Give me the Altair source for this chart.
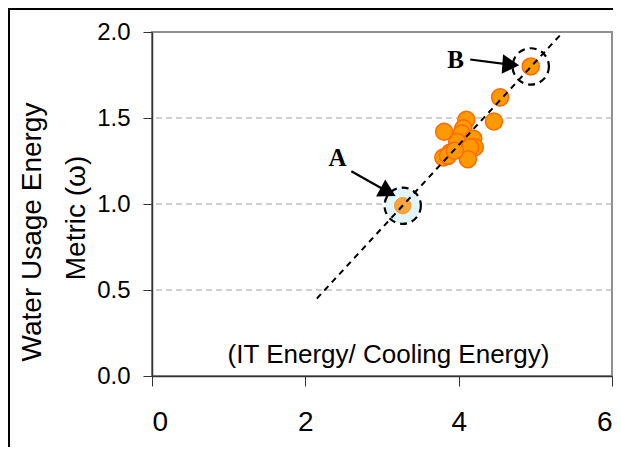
import altair as alt
import pandas as pd

# data points (IT energy / cooling energy, water usage energy metric)
xs = [4.94, 4.54, 4.46, 4.10, 3.81, 4.06, 4.04, 4.19, 4.21, 3.98, 4.15, 3.89, 3.80, 3.86, 4.12, 3.95]
ys = [1.80, 1.62, 1.48, 1.49, 1.42, 1.44, 1.41, 1.38, 1.33, 1.36, 1.33, 1.30, 1.27, 1.28, 1.26, 1.31]

# highlighted points A and B
hl_names = ["A", "B"]
hl_x = [3.27, 4.94]
hl_y = [0.99, 1.80]

# trend line endpoints
line_x = [2.15, 5.32]
line_y = [0.45, 1.98]

# annotation labels and arrows
lab_x = [2.42, 3.96]
lab_y = [1.27, 1.84]
arr_x0 = [2.60, 4.15]
arr_y0 = [1.19, 1.84]
arr_x1 = [3.08, 4.68]
arr_y1 = [1.07, 1.81]
arr_angle = [28, 4]

grid_vals = [0.5, 1.0, 1.5]
x_ticks = [0, 2, 4, 6]
y_ticks = [0.0, 0.5, 1.0, 1.5, 2.0]

pts = pd.DataFrame({"x": xs, "y": ys})
hl = pd.DataFrame({"name": hl_names, "x": hl_x, "y": hl_y})
ln = pd.DataFrame({"x": line_x, "y": line_y})
lab = pd.DataFrame({"name": hl_names, "x": lab_x, "y": lab_y})
arr = pd.DataFrame({"x": arr_x0, "y": arr_y0, "x2": arr_x1, "y2": arr_y1, "angle": arr_angle})
grid = pd.DataFrame({"y": grid_vals})

FONT = "Liberation Sans"

xs_ = alt.Scale(domain=[0, 6], nice=False)
ys_ = alt.Scale(domain=[0, 2], nice=False)

X = alt.X("x:Q", scale=xs_, axis=alt.Axis(
    values=x_ticks, format="d", title="(IT Energy/ Cooling Energy)",
    titleFontSize=26, titleFont=FONT, titleFontWeight="normal", titleColor="black",
    titleY=-22, titleBaseline="middle", titleX=236,
    labelFontSize=28, labelFont=FONT, labelColor="black", labelPadding=22,
    tickSize=10, tickColor="#333333", domainColor="#333333", domainWidth=1.5, grid=False))
Y = alt.Y("y:Q", scale=ys_, axis=alt.Axis(
    values=y_ticks, format=".1f", title=None,
    labelFontSize=24, labelFont=FONT, labelColor="black", labelPadding=13,
    tickSize=9, tickColor="#333333", domainColor="#333333", domainWidth=1.5, grid=False))

gridl = alt.Chart(grid).mark_rule(color="#A0A0A0", strokeDash=[6, 4], strokeWidth=1).encode(
    y=alt.Y("y:Q", scale=ys_))

circA = alt.Chart(hl[hl.name == "A"]).mark_point(
    shape="circle", size=1250, filled=True, fill="#E2F5F8", opacity=1, strokeWidth=0).encode(
    x=alt.X("x:Q", scale=xs_), y=alt.Y("y:Q", scale=ys_))

points = alt.Chart(pts).mark_point(
    shape="circle", size=290, filled=True, fill="#FF9900", stroke="#FF6A00",
    strokeWidth=1.5, opacity=1).encode(x=X, y=Y)

pointA = alt.Chart(hl[hl.name == "A"]).mark_point(
    shape="circle", size=270, filled=True, fill="#F7A540", stroke="#F59A30",
    strokeWidth=1, opacity=1).encode(x=alt.X("x:Q", scale=xs_), y=alt.Y("y:Q", scale=ys_))

trend = alt.Chart(ln).mark_line(color="black", strokeDash=[6, 5], strokeWidth=2).encode(
    x=alt.X("x:Q", scale=xs_), y=alt.Y("y:Q", scale=ys_))

rings = alt.Chart(hl).mark_point(
    shape="circle", size=1320, filled=False, stroke="black", strokeDash=[7, 5],
    strokeWidth=2.2, opacity=1).encode(x=alt.X("x:Q", scale=xs_), y=alt.Y("y:Q", scale=ys_))

arrows = alt.Chart(arr).mark_rule(color="black", strokeWidth=2.2).encode(
    x=alt.X("x:Q", scale=xs_), y=alt.Y("y:Q", scale=ys_), x2="x2:Q", y2="y2:Q")

heads = alt.Chart(arr).mark_point(
    shape="triangle-right", size=380, filled=True, fill="black", opacity=1).encode(
    x=alt.X("x2:Q", scale=xs_), y=alt.Y("y2:Q", scale=ys_), angle=alt.Angle("angle:Q", scale=None))

labels = alt.Chart(lab).mark_text(
    font="Liberation Serif", fontWeight="bold", fontSize=25, color="black").encode(
    x=alt.X("x:Q", scale=xs_), y=alt.Y("y:Q", scale=ys_), text="name:N")

ytitle1 = alt.Chart(pd.DataFrame({"t": ["Water Usage Energy"]})).mark_text(
    font=FONT, fontSize=28, angle=270, color="black", baseline="middle", align="center").encode(
    x=alt.value(-119), y=alt.value(200), text="t:N")
ytitle2 = alt.Chart(pd.DataFrame({"t": ["Metric (ω)"]})).mark_text(
    font=FONT, fontSize=28, angle=270, color="black", baseline="middle", align="center").encode(
    x=alt.value(-75), y=alt.value(186), text="t:N")

frame_top = alt.Chart(pd.DataFrame({"a": [0]})).mark_rule(color="black", strokeWidth=2).encode(
    x=alt.value(-144), x2=alt.value(480), y=alt.value(-23))
frame_left = alt.Chart(pd.DataFrame({"a": [0]})).mark_rule(color="black", strokeWidth=2).encode(
    x=alt.value(-143), y=alt.value(-24), y2=alt.value(420))

chart = alt.layer(
    gridl, circA, points, pointA, trend, rings, arrows, heads, labels,
    ytitle1, ytitle2, frame_top, frame_left
).properties(
    width=460, height=344,
    autosize=alt.AutoSizeParams(type="none"),
    padding={"left": 144, "top": 24, "right": 1, "bottom": 71},
).configure_view(
    stroke="#909090", strokeWidth=2
)

chart.save("out.html", embed_options={"renderer": "svg", "actions": False})
